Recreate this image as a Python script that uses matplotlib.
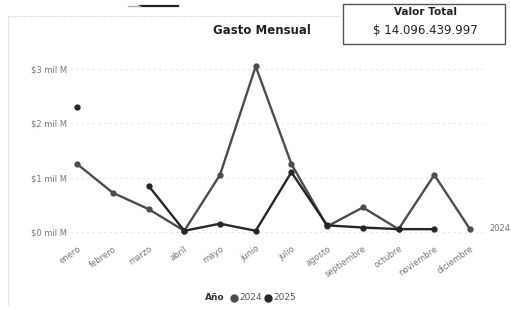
import matplotlib
matplotlib.use("Agg")
import matplotlib.pyplot as plt
import numpy as np
from matplotlib.patches import Rectangle
from matplotlib.lines import Line2D

months = ["enero", "febrero", "marzo", "abril", "mayo", "junio", "julio",
          "agosto", "septiembre", "octubre", "noviembre", "diciembre"]
# values in "mil M" (miles de millones)
v2024 = [1.25, 0.72, 0.42, 0.02, 1.05, 3.05, 1.25, 0.10, 0.45, 0.05, 1.05, 0.05]
v2025 = [2.30, np.nan, 0.85, 0.02, 0.15, 0.02, 1.10, 0.12, 0.08, 0.05, 0.05, np.nan]
yticks = [0, 1, 2, 3]
ytick_labels = ["$0 mil M", "$1 mil M", "$2 mil M", "$3 mil M"]
title = "Gasto Mensual"
card_title = "Valor Total"
card_value = "$ 14.096.439.997"

c2024 = "#4d4d4d"
c2025 = "#262626"

W, H = 511, 310
fig = plt.figure(figsize=(W / 100, H / 100), dpi=100)
fig.patch.set_facecolor("white")

ax = fig.add_axes([70 / W, 1 - 240 / H, 415 / W, 185 / H])
x = np.arange(len(months))
ax.plot(x, v2024, color=c2024, lw=1.7, marker="o", ms=3.5, zorder=3)
ax.plot(x, v2025, color=c2025, lw=1.7, marker="o", ms=3.5, zorder=4)

ax.set_xlim(-0.2, 11.42)
ax.set_ylim(-0.15, 3.26)
ax.set_yticks(yticks)
ax.set_yticklabels(ytick_labels, fontsize=6, color="#777777")
ax.set_xticks(x)
ax.set_xticklabels(months, rotation=35, ha="right", rotation_mode="anchor",
                   fontsize=6, color="#777777")
ax.tick_params(length=0, pad=3)
ax.tick_params(axis="y", pad=2)
for s in ax.spines.values():
    s.set_visible(False)
ax.grid(axis="y", color="#e6e6e6", lw=0.8, ls=(0, (2, 3)))
ax.set_axisbelow(True)

ax.text(11.55, 0.07, "2024", fontsize=6, color="#777777", va="center",
        ha="left", clip_on=False)

# title
fig.text(262 / W, 1 - 30 / H, title, fontsize=8.5, fontweight="bold",
         ha="center", va="center", color="#222222")

# top frame lines
fig.add_artist(Line2D([8 / W, 340 / W], [1 - 16 / H, 1 - 16 / H],
                      color="#cfcfcf", lw=0.8, ls=(0, (1, 1))))
fig.add_artist(Line2D([8 / W, 8 / W], [1 - 16 / H, 1 - 305 / H],
                      color="#e6e6e6", lw=0.8))
fig.add_artist(Line2D([140 / W, 178 / W], [1 - 6 / H, 1 - 6 / H],
                      color="#222222", lw=1.6))
fig.add_artist(Line2D([128 / W, 140 / W], [1 - 6 / H, 1 - 6 / H],
                      color="#aaaaaa", lw=1.0))

# card
fig.add_artist(Rectangle((343 / W, 1 - 44 / H), 162 / W, 40 / H,
                         transform=fig.transFigure, fill=False,
                         edgecolor="#555555", lw=1.0))
fig.text(425 / W, 1 - 12 / H, card_title, fontsize=7.5, fontweight="bold",
         ha="center", va="center", color="#222222")
fig.text(425 / W, 1 - 31 / H, card_value, fontsize=8.5,
         ha="center", va="center", color="#222222")

# legend
ly = 1 - 298 / H
fig.text(205 / W, ly, "Año", fontsize=6.5, fontweight="bold", ha="left",
         va="center", color="#333333")
fig.add_artist(Line2D([234 / W], [ly], marker="o", ms=5, color=c2024,
                      lw=0))
fig.text(239 / W, ly, "2024", fontsize=6.5, ha="left", va="center",
         color="#555555")
fig.add_artist(Line2D([268 / W], [ly], marker="o", ms=5, color=c2025,
                      lw=0))
fig.text(273 / W, ly, "2025", fontsize=6.5, ha="left", va="center",
         color="#555555")

fig.savefig("out.png", dpi=100, facecolor="white")
